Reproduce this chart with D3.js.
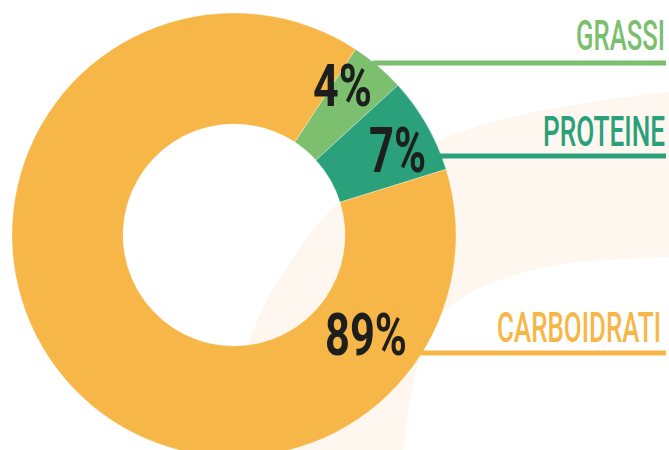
<!DOCTYPE html>
<html>
<head>
<meta charset="utf-8">
<script src="https://cdn.jsdelivr.net/npm/d3@7"></script>
<style>
  html, body { margin: 0; padding: 0; background: #fff; }
  #chart { width: 669px; height: 450px; overflow: hidden; }
</style>
</head>
<body>
<div id="chart"></div>
<script>
// macronutrient split
var categories = ['GRASSI', 'PROTEINE', 'CARBOIDRATI'];
var values = [4, 7, 89];
var labels = ['4%', '7%', '89%'];
var colors = ['#7bbf6f', '#2aa07b', '#f7b748'];

// where each leader line sits (y) and the boxes the texts must fill
var leaderY = [63, 156, 353];
var pctBox = [
    { x: 313, w: 59, base: 106, size: 60 },
    { x: 369, w: 57, base: 172, size: 63 },
    { x: 325, w: 82, base: 355, size: 60 }
];
var nameBox = [
    { right: 665, w: 89, base: 50, size: 42 },
    { right: 665, w: 122, base: 146, size: 43 },
    { right: 661, w: 164, base: 342, size: 42 }
];

var width = 669, height = 450;
var cx = 234, cy = 235;
var outerR = 222, innerR = 111;
var lineEnd = 666;

var svg = d3.select('#chart').append('svg')
    .attr('width', width)
    .attr('height', height);

// faint cream swoosh in the background
var swooshOuter = [[212, 480], [248, 345], [283, 273], [338, 203], [440, 140], [560, 107], [685, 90]];
var swooshInner = [[685, 256], [620, 259], [547, 267], [463, 297], [420, 357], [403, 450], [400, 480]];
var curve = d3.line().curve(d3.curveNatural);
svg.append('path')
    .attr('d', curve(swooshOuter) + 'L' + curve(swooshInner).slice(1) + 'Z')
    .attr('fill', '#fdf7f0');

var pie = d3.pie()
    .sort(null)
    .startAngle(33.2 * Math.PI / 180)
    .endAngle(33.2 * Math.PI / 180 + 2 * Math.PI);

var arc = d3.arc()
    .innerRadius(innerR)
    .outerRadius(outerR);

var g = svg.append('g').attr('transform', 'translate(' + cx + ',' + cy + ')');

g.selectAll('path.slice').data(pie(values)).enter().append('path')
    .attr('class', 'slice')
    .attr('d', arc)
    .attr('fill', function(d, i) { return colors[i]; })
    .attr('stroke', '#fff')
    .attr('stroke-opacity', 0.5)
    .attr('stroke-width', 0.6);

// leader lines start at the ring edge
svg.selectAll('line.leader').data(values).enter().append('line')
    .attr('class', 'leader')
    .attr('x1', function(d, i) {
        var dy = leaderY[i] - cy;
        return cx + Math.sqrt(outerR * outerR - dy * dy) - 2;
    })
    .attr('x2', lineEnd)
    .attr('y1', function(d, i) { return leaderY[i]; })
    .attr('y2', function(d, i) { return leaderY[i]; })
    .attr('stroke', function(d, i) { return colors[i]; })
    .attr('stroke-width', 5);

// squeeze a text horizontally so it fills its box (the original face is condensed)
function fitX(sel, box, anchorRight) {
    sel.each(function(d, i) {
        var t = d3.select(this);
        var natural = this.getComputedTextLength();
        var sx = box[i].w / natural;
        var x = anchorRight ? box[i].right : box[i].x;
        t.attr('transform', 'translate(' + x + ',' + box[i].base + ') scale(' + sx + ',1)');
    });
}

var names = svg.selectAll('text.name').data(categories).enter().append('text')
    .attr('class', 'name')
    .attr('text-anchor', 'end')
    .style('font-family', 'Roboto, "Liberation Sans", sans-serif')
    .style('font-weight', 500)
    .style('font-size', function(d, i) { return nameBox[i].size + 'px'; })
    .attr('fill', function(d, i) { return colors[i]; })
    .text(function(d) { return d; });
fitX(names, nameBox, true);

var pcts = svg.selectAll('text.pct').data(labels).enter().append('text')
    .attr('class', 'pct')
    .style('font-family', 'Roboto, "Liberation Sans", sans-serif')
    .style('font-weight', 700)
    .style('font-size', function(d, i) { return pctBox[i].size + 'px'; })
    .attr('fill', '#1e1e1c')
    .text(function(d) { return d; });
fitX(pcts, pctBox, false);
</script>
</body>
</html>
